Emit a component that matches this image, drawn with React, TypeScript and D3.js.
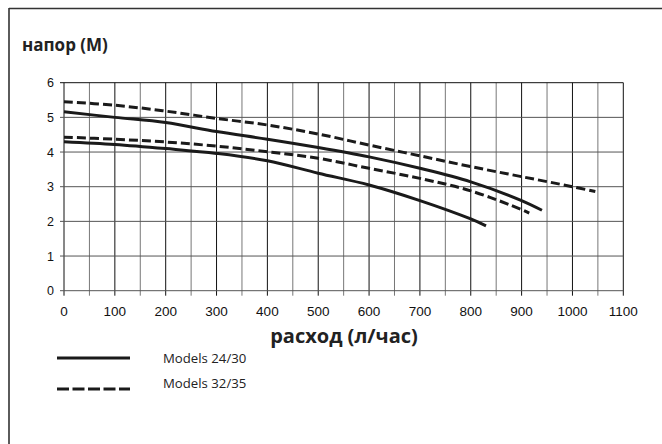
import React from "react";
import * as d3 from "d3";

const xTicks = [0, 100, 200, 300, 400, 500, 600, 700, 800, 900, 1000, 1100];
const yTicks = [0, 1, 2, 3, 4, 5, 6];

const flowA1 = [0, 100, 200, 300, 400, 500, 600, 700, 800, 900, 940];
const headA1 = [5.16, 5.0, 4.85, 4.59, 4.37, 4.13, 3.86, 3.53, 3.14, 2.6, 2.32];

const flowA2 = [0, 100, 200, 300, 400, 500, 600, 700, 800, 830];
const headA2 = [4.3, 4.22, 4.1, 3.96, 3.75, 3.39, 3.05, 2.6, 2.07, 1.87];

const flowB1 = [0, 100, 200, 300, 400, 500, 600, 700, 800, 900, 1000, 1045];
const headB1 = [5.45, 5.35, 5.18, 4.97, 4.78, 4.52, 4.2, 3.89, 3.58, 3.29, 3.0, 2.86];

const flowB2 = [0, 100, 200, 300, 400, 500, 600, 700, 800, 900, 915];
const headB2 = [4.43, 4.37, 4.29, 4.17, 4.01, 3.82, 3.53, 3.24, 2.88, 2.34, 2.24];

const legendLabels = ["Models 24/30", "Models 32/35"];

const W = 662;
const H = 444;
const X0 = 64;
const X1 = 623.3;
const Y0 = 290.7;
const Y1 = 82.7;

export default function App() {
  const x = d3.scaleLinear().domain([0, 1100]).range([X0, X1]);
  const y = d3.scaleLinear().domain([0, 6]).range([Y0, Y1]);
  const line = d3
    .line<[number, number]>()
    .x((d) => x(d[0]))
    .y((d) => y(d[1]))
    .curve(d3.curveCatmullRom.alpha(0.5));
  const mk = (fs: number[], hs: number[]) => line(fs.map((f, i) => [f, hs[i]] as [number, number])) || "";
  const halfTicks = d3.range(0, 1101, 50);
  const solid = [mk(flowA1, headA1), mk(flowA2, headA2)];
  const dashed = [mk(flowB1, headB1), mk(flowB2, headB2)];
  const tickFont = "'Liberation Sans', Arial, sans-serif";
  const boldFont = "'Open Sans', 'Noto Sans', sans-serif";
  return (
    <svg
      width={W}
      height={H}
      style={{ position: "absolute", left: 0, top: 0, background: "#fff" }}
    >
      <line x1={9} y1={8.5} x2={W} y2={8.5} stroke="#333" strokeWidth={1.6} />
      <line x1={9} y1={8} x2={9} y2={H} stroke="#333" strokeWidth={1.6} />
      <text x={22} y={51} fontFamily={boldFont} fontWeight="bold" fontSize={17} fill="#222">
        напор (М)
      </text>
      {halfTicks.map((v) => (
        <line
          key={"v" + v}
          x1={x(v)}
          x2={x(v)}
          y1={Y1}
          y2={Y0 + 5}
          stroke={v % 100 === 0 ? "#111" : "#777"}
          strokeWidth={1}
        />
      ))}
      {yTicks.map((v) => (
        <line
          key={"h" + v}
          x1={X0 - 4}
          x2={X1}
          y1={y(v)}
          y2={y(v)}
          stroke={v === 6 ? "#111" : "#555"}
          strokeWidth={1}
        />
      ))}
      {yTicks.map((v) => (
        <text
          key={"yl" + v}
          x={X0 - 10}
          y={y(v) + 4.5}
          textAnchor="end"
          fontFamily={tickFont}
          fontSize={12.5}
          fill="#111"
        >
          {v}
        </text>
      ))}
      {xTicks.map((v) => (
        <text
          key={"xl" + v}
          x={x(v)}
          y={Y0 + 25}
          textAnchor="middle"
          fontFamily={tickFont}
          fontSize={13.5}
          fill="#111"
        >
          {v}
        </text>
      ))}
      {solid.map((d, i) => (
        <path key={"s" + i} d={d} fill="none" stroke="#1a1a1a" strokeWidth={3} />
      ))}
      {dashed.map((d, i) => (
        <path
          key={"d" + i}
          d={d}
          fill="none"
          stroke="#1a1a1a"
          strokeWidth={3}
          strokeDasharray="9 4"
        />
      ))}
      <text
        x={344}
        y={343}
        textAnchor="middle"
        fontFamily={boldFont}
        fontWeight="bold"
        fontSize={20}
        fill="#222"
      >
        расход (л/час)
      </text>
      <line x1={57} x2={130} y1={358} y2={358} stroke="#1a1a1a" strokeWidth={3} />
      <line
        x1={57}
        x2={130}
        y1={389}
        y2={389}
        stroke="#1a1a1a"
        strokeWidth={3}
        strokeDasharray="12 3.5"
      />
      <text x={163} y={362.5} fontFamily={boldFont} fontSize={13.2} fill="#222">
        {legendLabels[0]}
      </text>
      <text x={163} y={387.5} fontFamily={boldFont} fontSize={13.2} fill="#222">
        {legendLabels[1]}
      </text>
    </svg>
  );
}
